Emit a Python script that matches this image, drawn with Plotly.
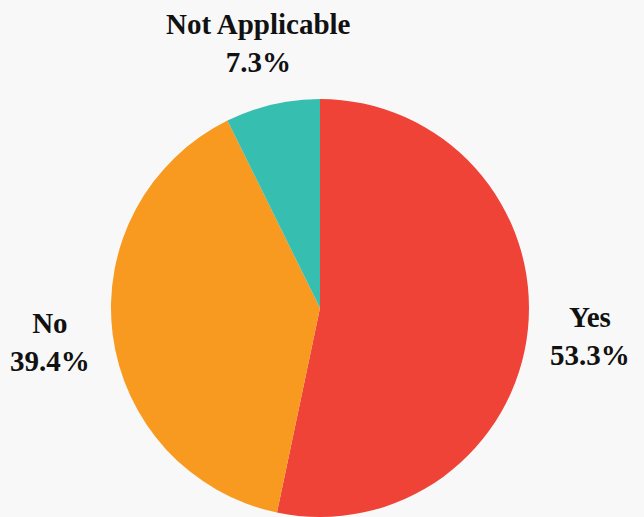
import math
import plotly.graph_objects as go

labels = ["Yes", "No", "Not Applicable"]
values = [53.3, 39.4, 7.3]
colors = ["#EF4338", "#F79A1F", "#36BEB1"]

W, H = 644, 517
cx, cy, R = 320, 308, 209  # pie centre / radius in pixels

fig = go.Figure(go.Pie(
    labels=labels,
    values=values,
    sort=False,
    direction="clockwise",
    rotation=0,
    marker=dict(colors=colors, line=dict(width=0)),
    textinfo="none",
    hoverinfo="label+percent",
    domain=dict(x=[(cx - R) / W, (cx + R) / W],
                y=[(H - cy - R) / H, (H - cy + R) / H]),
    showlegend=False,
))

# labels placed outside at the mid-angle of each slice
total = sum(values)
cum = 0
for lab, v in zip(labels, values):
    mid = (cum + v / 2) / total * 2 * math.pi
    cum += v
    px = cx + 1.3 * R * math.sin(mid)
    py = cy - 1.3 * R * math.cos(mid)
    fig.add_annotation(
        x=px / W, y=1 - py / H, xref="paper", yref="paper",
        text="<b>%s</b><br><b>%.1f%%</b>" % (lab, v / total * 100),
        showarrow=False, xanchor="center", yanchor="middle", align="center",
        font=dict(family="Liberation Serif", size=29, color="#111111"),
    )

fig.update_layout(
    width=W, height=H,
    margin=dict(l=0, r=0, t=0, b=0),
    paper_bgcolor="#F8F8F8",
    plot_bgcolor="#F8F8F8",
)

fig.write_html("out.html", config={"displayModeBar": False},
               post_script="document.body.style.margin='0';")
